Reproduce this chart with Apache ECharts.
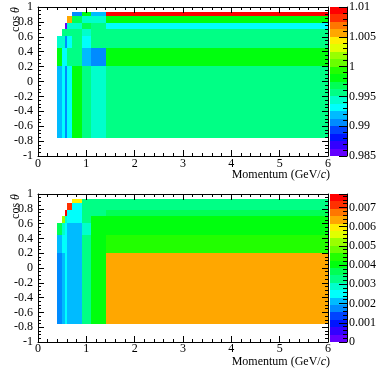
<!DOCTYPE html>
<html><head><meta charset="utf-8">
<script src="https://cdn.jsdelivr.net/npm/echarts@6/dist/echarts.min.js"></script>
<style>html,body{margin:0;padding:0;background:#fff}#c{width:390px;height:371px}</style>
</head><body><div id="c"></div>
<script>
// ---- data ----
const momentumEdges = [0.4, 0.5, 0.55, 0.6, 0.7, 0.9, 1.1, 1.4, 6.0];
const cosThetaEdges = [-0.762, 0.205, 0.445, 0.61, 0.705, 0.79, 0.875, 0.935];
// rows: bottom (row 0) to top; columns follow momentumEdges; null = empty bin
const correctionValues = [
  [0.9919, 0.9931, 0.9906, 0.9931, 0.9981, 0.9956, 0.9944, 0.9956],
  [0.9981, 0.9931, 0.9931, 0.9956, 0.9956, 0.9919, 0.9906, 0.9981],
  [0.9944, 0.9944, 0.9906, 0.9931, 0.9956, 0.9931, 0.9956, 0.9956],
  [null,   0.9956, 0.9956, 0.9956, 0.9956, 0.9944, 0.9956, 0.9956],
  [null,   null,   0.9857, 0.9944, 0.9944, 0.9969, 0.9956, 0.9931],
  [null,   null,   null,   1.0056, 0.9969, 0.9944, 0.9944, 0.9981],
  [null,   null,   null,   null,   0.9906, 0.9981, 0.9919, 1.0094]
];
const uncertaintyValues = [
  [0.00173, 0.00212, 0.00250, 0.00212, 0.00212, 0.00327, 0.00404, 0.00635],
  [0.00212, 0.00250, 0.00250, 0.00212, 0.00212, 0.00327, 0.00404, 0.00443],
  [0.00366, 0.00289, 0.00250, 0.00212, 0.00212, 0.00289, 0.00404, 0.00404],
  [null,    0.00520, 0.00289, 0.00250, 0.00250, 0.00327, 0.00404, 0.00404],
  [null,    null,    0.00751, 0.00250, 0.00250, 0.00327, 0.00327, 0.00366],
  [null,    null,    null,    0.00712, 0.00250, 0.00327, 0.00327, 0.00327],
  [null,    null,    null,    null,    0.00597, 0.00327, 0.00327, 0.00327]
];
const correctionRange = [0.985, 1.01];
const correctionTickStep = 0.005;
const uncertaintyRange = [0, 0.0077];
const uncertaintyTickStep = 0.001;
const paletteColors = ['#6300ff','#3300ff','#0014ff','#0044ff','#008bff','#00bbff','#00fffc','#00ffcc',
  '#00ff85','#00ff55','#00ff0e','#22ff00','#69ff00','#99ff00','#e1ff00','#ffee00','#ffa700','#ff7700','#ff3000','#ff0000'];

// ---- build ----
const FONT = 'Liberation Serif';
function cells(matrix) {
  const out = [];
  matrix.forEach((row, r) => row.forEach((v, c) => {
    if (v !== null) out.push([momentumEdges[c], momentumEdges[c + 1], cosThetaEdges[r], cosThetaEdges[r + 1], v]);
  }));
  return out;
}
function levels(range) {
  const n = paletteColors.length, step = (range[1] - range[0]) / n, out = [];
  for (let i = 0; i < n; i++) out.push([0, 1, range[0] + i * step, range[0] + (i + 1) * step, range[0] + (i + 0.5) * step]);
  return out;
}
function pieces(range) {
  const n = paletteColors.length, step = (range[1] - range[0]) / n;
  return paletteColors.map((col, i) => ({ gte: range[0] + i * step, lt: range[0] + (i + 1) * step + (i === n - 1 ? 1 : 0), color: col }));
}
function renderCell(params, api) {
  const a = api.coord([api.value(0), api.value(3)]);
  const b = api.coord([api.value(1), api.value(2)]);
  const x0 = Math.round(a[0]), y0 = Math.round(a[1]), x1 = Math.round(b[0]), y1 = Math.round(b[1]);
  return { type: 'rect', shape: { x: x0, y: y0, width: x1 - x0, height: y1 - y0 }, style: { fill: api.visual('color') } };
}
const lbl = { fontFamily: FONT, fontSize: 12, color: '#000' };
const axLine = { show: true, onZero: false, lineStyle: { color: '#000', width: 1 } };
function plotAxes(grid, labelMarginX) {
  const xs = [
    { type: 'value', gridIndex: grid, min: 0, max: 6, interval: 1, position: 'bottom', z: 10,
      axisLine: axLine, splitLine: { show: false },
      axisTick: { inside: true, length: 6, lineStyle: { color: '#000' } },
      minorTick: { show: true, splitNumber: 5, length: 3, lineStyle: { color: '#000' } },
      axisLabel: Object.assign({ margin: labelMarginX }, lbl) },
    { type: 'value', gridIndex: grid, min: 0, max: 6, interval: 1, position: 'top', z: 10,
      axisLine: axLine, splitLine: { show: false },
      axisTick: { inside: true, length: 6, lineStyle: { color: '#000' } },
      minorTick: { show: true, splitNumber: 5, length: 3, lineStyle: { color: '#000' } },
      axisLabel: { show: false } }
  ];
  const ys = [
    { type: 'value', gridIndex: grid, min: -1, max: 1, interval: 0.2, position: 'left', z: 10,
      axisLine: axLine, splitLine: { show: false },
      axisTick: { inside: true, length: 6, lineStyle: { color: '#000' } },
      minorTick: { show: true, splitNumber: 4, length: 3, lineStyle: { color: '#000' } },
      axisLabel: Object.assign({ margin: 5 }, lbl) },
    { type: 'value', gridIndex: grid, min: -1, max: 1, interval: 0.2, position: 'right', z: 10,
      axisLine: axLine, splitLine: { show: false },
      axisTick: { inside: true, length: 6, lineStyle: { color: '#000' } },
      minorTick: { show: true, splitNumber: 4, length: 3, lineStyle: { color: '#000' } },
      axisLabel: { show: false } }
  ];
  return { xs, ys };
}
function barAxes(grid, range, step, showMax) {
  return {
    x: { type: 'value', gridIndex: grid, min: 0, max: 1, show: false },
    y: { type: 'value', gridIndex: grid, min: range[0], max: range[1], interval: step, position: 'right', z: 10,
      axisLine: { show: true, onZero: false, lineStyle: { color: '#000', width: 1 } }, splitLine: { show: false },
      axisTick: { inside: true, length: 8, lineStyle: { color: '#000' } },
      minorTick: { show: true, splitNumber: 5, length: 4, lineStyle: { color: '#000' } },
      axisLabel: Object.assign({ margin: 2, showMaxLabel: showMax }, lbl) }
  };
}
const upperAxes = plotAxes(0, 2), lowerAxes = plotAxes(2, 1);
const upperBar = barAxes(1, correctionRange, correctionTickStep, true);
const lowerBar = barAxes(3, uncertaintyRange, uncertaintyTickStep, false);

function titleText(x, y, text, rot, align) {
  return { type: 'text', x: x, y: y, rotation: rot, z: 20,
    style: { text: text, fontFamily: FONT, fontSize: 12, fill: '#000', align: align, verticalAlign: 'middle',
      rich: { i: { fontStyle: 'italic', fontFamily: FONT, fontSize: 12, fill: '#000' } } } };
}

const option = {
  animation: false,
  backgroundColor: '#fff',
  grid: [
    { left: 38, top: 7, width: 290, height: 149 },
    { left: 330, top: 7, width: 17, height: 149 },
    { left: 38, top: 194, width: 290, height: 148 },
    { left: 330, top: 194, width: 17, height: 148 }
  ],
  xAxis: [upperAxes.xs[0], upperAxes.xs[1], upperBar.x, lowerAxes.xs[0], lowerAxes.xs[1], lowerBar.x],
  yAxis: [upperAxes.ys[0], upperAxes.ys[1], upperBar.y, lowerAxes.ys[0], lowerAxes.ys[1], lowerBar.y],
  visualMap: [
    { type: 'piecewise', show: false, seriesIndex: [0, 1], dimension: 4, pieces: pieces(correctionRange) },
    { type: 'piecewise', show: false, seriesIndex: [2, 3], dimension: 4, pieces: pieces(uncertaintyRange) }
  ],
  series: [
    { type: 'custom', xAxisIndex: 0, yAxisIndex: 0, renderItem: renderCell, encode: { x: [0, 1], y: [2, 3] }, data: cells(correctionValues), silent: true },
    { type: 'custom', xAxisIndex: 2, yAxisIndex: 2, renderItem: renderCell, encode: { x: [0, 1], y: [2, 3] }, data: levels(correctionRange), silent: true },
    { type: 'custom', xAxisIndex: 3, yAxisIndex: 3, renderItem: renderCell, encode: { x: [0, 1], y: [2, 3] }, data: cells(uncertaintyValues), silent: true },
    { type: 'custom', xAxisIndex: 5, yAxisIndex: 5, renderItem: renderCell, encode: { x: [0, 1], y: [2, 3] }, data: levels(uncertaintyRange), silent: true }
  ],
  graphic: [
    titleText(15.5, 7, 'cos {i|θ}', Math.PI / 2, 'right'),
    titleText(330, 175, 'Momentum (GeV/{i|c})', 0, 'right'),
    titleText(15.5, 194, 'cos {i|θ}', Math.PI / 2, 'right'),
    titleText(330, 361.5, 'Momentum (GeV/{i|c})', 0, 'right')
  ]
};
const chart = echarts.init(document.getElementById('c'), null, { renderer: 'canvas' });
chart.setOption(option);
</script>
</body></html>
